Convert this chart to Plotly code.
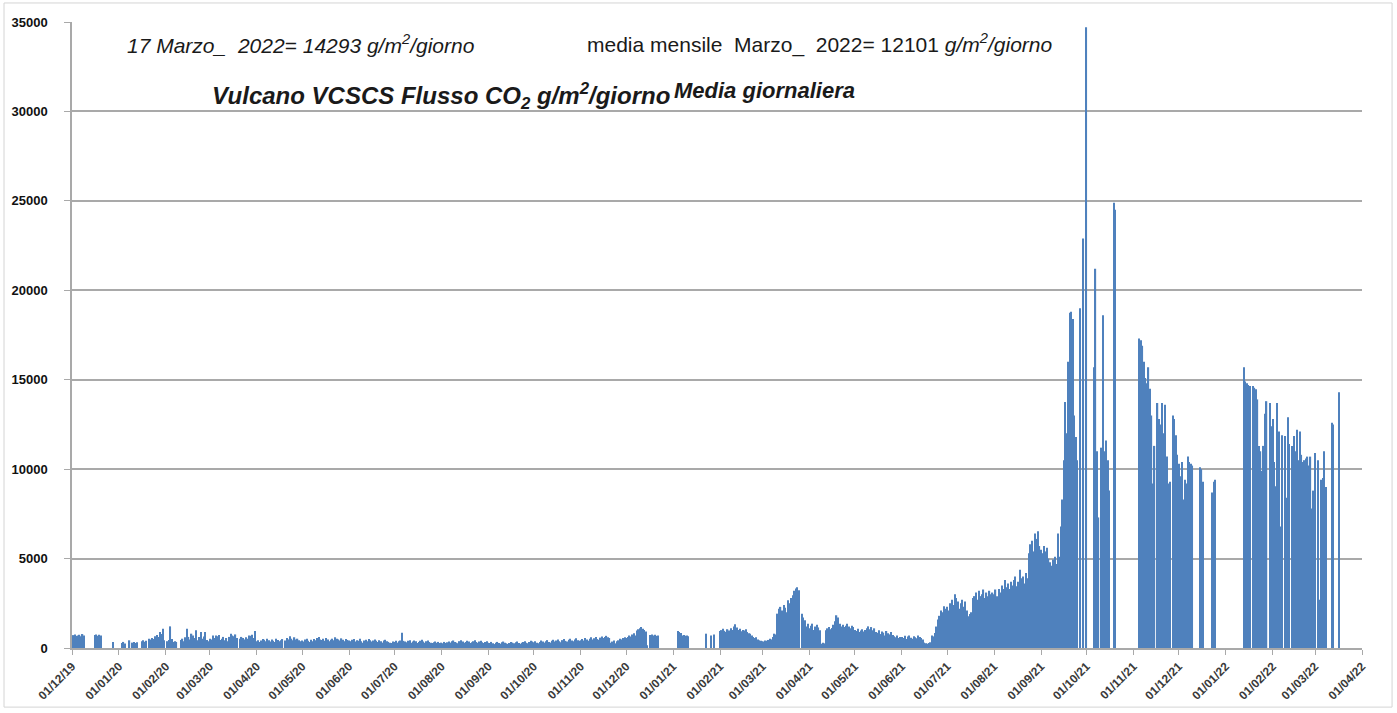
import calendar
import pandas as pd
import plotly.graph_objects as go

# Vulcano, station VCSCS: daily mean soil CO2 flux (g/m2/giorno).
# One inner list per month, one value per day; None = no measurement that day.
flux_2019 = [  # starts December 2019
    [None, 720, 760, 680, 700, 740, 650, 780, 700, None, None, None, None, None, None,
     720, 760, 690, 740, 700, None, None, None, None, None, None, None, 340, None, None, None],
]
flux_2020 = [
    [None, None, 280, 340, 250, None, None, 430, None, 300, 340, 280, 320, None, None, 380,
     430, 350, 400, None, 520, 480, 560, 500, 650, 720, 620, 900, 780, 1080, 430],
    [None, 380, 450, 1210, 500, 340, 380, 340, None, None, 450, 520, 380, 600, 1080, 620,
     480, 800, 700, 560, 990, 430, 620, 900, 520, 640, 900, 450, 380],
    [520, 480, 700, 560, 700, 650, 720, 450, 520, 620, 430, 560, 380, 620, 800, 700,
     650, 760, 560, None, 520, 620, 560, 480, 600, 520, 700, 680, 740, 560, 950],
    [380, 430, 340, 420, 500, 460, 380, 520, 430, 360, 480, 400, 340, 520, 450, 380,
     440, 500, None, 420, 560, 480, 650, 520, 430, 600, 480, 520, 440, 380],
    [420, 360, 480, 520, 400, 340, 460, 380, 500, 430, 560, 620, 480, 450, 520, 400,
     560, 480, 380, 460, 520, 440, 600, 520, 480, 420, 540, 460, 380, 500, 450],
    [420, 380, 460, 500, 360, 440, 400, 520, 380, 300, 420, 460, 380, 500, 440, 360,
     420, 480, 400, 340, 440, 380, 300, 420, 460, 380, 340, 300, 280, 360],
    [340, 400, 300, 380, 420, 850, 400, 360, 320, 400, 440, 300, 360, 420, 380, 280,
     340, 400, 460, 360, 300, 380, 420, 340, 300, 280, 320, 360, 300, 340, 280],
    [300, 260, 340, 280, 320, 360, 300, 380, 420, 340, 300, 260, 380, 440, 360, 300,
     340, 400, 360, 280, 320, 380, 440, 340, 300, 360, 400, 320, 280, 340, 380],
    [300, 280, 340, 260, 220, 300, 340, 280, 240, 320, 360, 300, 260, 220, 280, 340,
     300, 260, 320, 360, 280, 240, 300, 340, 380, 300, 260, 340, 400, 360],
    [320, 380, 300, 260, 340, 420, 360, 300, 380, 440, 340, 300, 400, 460, 360, 420,
     480, 380, 320, 440, 500, 400, 360, 460, 520, 420, 380, 480, 540, 440, 400],
    [440, 500, 420, 560, 480, 400, 520, 600, 480, 540, 620, 500, 460, 580, 640, 560,
     620, 680, 600, 560, 300, 360, 420, 260, 380, 430, 520, 480, 560, 600],
    [560, 620, 700, 640, 760, 820, 700, 980, 1050, 1100, 1180, 1080, 1000, 920, 150, None,
     720, 760, 700, 740, 680, 700, None, None, None, None, None, None, None, None, None],
]
flux_2021 = [
    [None, None, None, 950, 900, 840, 700, 720, 680, 700, 660, None, None, None, None, None,
     None, None, None, None, None, None, 800, None, None, 700, None, 750, None, None, None],
    [950, 1000, 1080, 960, 900, 1050, 980, 1100, 1000, 1200, 1330, 1150, 1000, 1080, 940, 1000,
     980, 1050, 900, 820, 800, 700, 620, 560, 600, 480, 430, 400],
    [380, 360, 420, 400, 450, 520, 480, 620, 800, 760, 1920, 2200, 2300, 2100, 2400, 2250,
     2000, 2670, 2500, 2800, 2950, 3200, 3320, 3400, 3230, None, 1920, 1700, 1550, 1200, 1360],
    [1100, 1250, 1360, 1000, 1200, 1300, 1150, 990, 240, 300, 260, 990, 1100, 1170, 1050, 1120,
     1300, 1500, 1830, 1700, 1360, 1200, 1300, 1170, 1250, 1360, 1200, 1100, 1250, 1170],
    [1000, 950, 1080, 900, 980, 1050, 920, 1000, 1100, 1210, 1050, 1170, 990, 1100, 900, 850,
     990, 780, 920, 860, 700, 950, 820, 760, 900, 720, 650, 600, 700, 560, 620],
    [620, 560, 680, 500, 640, 700, 580, 520, 660, 600, 540, 700, 620, 560, 480, 300,
     260, 240, 280, 320, 700, 650, 840, 1200, 1590, 1800, 2100, 2000, 2330, 2200],
    [2300, 2100, 2500, 2700, 2400, 3000, 2800, 2600, 2200, 2500, 2700, 2300, 2600, 2100, 1770, 1900,
     2000, 2800, 2900, 3100, 2700, 3200, 2900, 3000, 3270, 2800, 3100, 2900, 3200, 3000, 3100],
    [3000, 3270, 2900, 3300, 3100, 3500, 3300, 3800, 3400, 3600, 3300, 3700, 3500, 3800, 4000, 3450,
     3700, 4380, 3900, 4000, 3600, 4200, 3900, 5300, 5800, 6000, 5400, 6400, 6100, 6530, 5700],
    [5500, 5300, 5700, 5400, 5600, 5000, 4800, 4600, 4950, 5100, 4700, 6400, 5100, 6800, 8300, 10500,
     13750, 12000, 16000, 18750, 18800, 18400, 13000, 11800, 10500, None, 19000, None, 22900, None],
    [34700, None, None, None, None, 15700, 21200, 11000, 7300, None, 11200, 18600, 11000, 11600, 10500, 8800,
     None, None, 24900, 24500, None, None, None, None, None, None, None, None, None, None, None],
    [None, None, None, None, 17300, 17200, 16900, 16000, 15100, 14800, 15700, 14500, 13000, 9200, 11300, None,
     13700, 12800, 12500, 13700, 12000, 13600, 10700, 9200, 9300, None, 13000, 12800, 11900, 10800],
    [10300, 9600, 10400, 8300, 9400, 9200, 10700, 10400, 10300, 10200, None, None, None, None, 10100, 10000,
     9300, None, None, None, None, None, 8700, 9300, 9400, None, None, None, None, None, None],
]
flux_2022 = [
    [None, None, None, None, None, None, None, None, None, None, None, None, 15700, 14900, 14800, 14700,
     14650, None, 14650, 14550, 14460, 13900, 11300, 11000, 9900, 11300, 13100, 13800, None, 13700, 12400],
    [12800, 10400, 9050, 13700, 12100, 6800, 11900, None, 11850, 8400, 12900, 11400, None, 11300, 11850, 11000,
     12200, 10500, 12100, 10800, 10400, 10500, 10600, 10700, 10200, 10700, 7800, 8800],
    [10900, None, 10500, 2700, 9400, 9500, 11000, 9000, None, None, None, 12600, 12500, None, None, None,
     14293],
]

# Monthly mean for March 2022 as stated in the chart header
march_2022_mean = 12101

series = [(2019, 12, flux_2019), (2020, 1, flux_2020), (2021, 1, flux_2021), (2022, 1, flux_2022)]

dates, values = [], []
for year, first_month, months in series:
    for k, vals in enumerate(months):
        month = first_month + k
        assert len(vals) <= calendar.monthrange(year, month)[1], (year, month, len(vals))
        dates.extend(pd.date_range(f"{year}-{month:02d}-01", periods=len(vals), freq="D"))
        values.extend(vals)

last_day_value = flux_2022[-1][-1]

BAR = "#4F81BD"
GRID = "#a9a9a9"
FONT = "Liberation Sans"

fig = go.Figure(
    go.Bar(x=dates, y=values, marker=dict(color=BAR, line=dict(width=0)), hoverinfo="x+y")
)

fig.update_layout(
    width=1397,
    height=713,
    margin=dict(l=72, r=35, t=22, b=65),
    paper_bgcolor="white",
    plot_bgcolor="white",
    bargap=0.18,
    showlegend=False,
    font=dict(family=FONT, color="#1a1a1a"),
)

fig.update_xaxes(
    type="date",
    range=["2019-12-01", "2022-04-01"],
    tick0="2019-12-01",
    dtick="M1",
    tickformat="%d/%m/%y",
    tickangle=-45,
    ticks="outside",
    ticklen=5,
    tickcolor=GRID,
    tickfont=dict(family=FONT, size=12, color="#3a3a3a", weight="bold"),
    showgrid=False,
    showline=True,
    linecolor=GRID,
    linewidth=1.5,
    zeroline=False,
    automargin=False,
)

fig.update_yaxes(
    range=[0, 35000],
    tick0=0,
    dtick=5000,
    tickformat="d",
    ticks="outside",
    ticklen=6,
    tickcolor=GRID,
    tickfont=dict(family=FONT, size=13, color="#111111", weight="bold"),
    ticklabelstandoff=14,
    showgrid=True,
    gridcolor=GRID,
    gridwidth=1.5,
    showline=True,
    linecolor=GRID,
    linewidth=1.5,
    zeroline=False,
    automargin=False,
)

# Header texts inside the plotting area
fig.add_annotation(
    xref="paper", yref="paper", x=0.041, y=0.965, xanchor="left", yanchor="middle",
    text=f"<i>17 Marzo_  2022= {last_day_value} g/m<sup>2</sup>/giorno</i>",
    showarrow=False, font=dict(family=FONT, size=21, color="#1a1a1a"),
)
fig.add_annotation(
    xref="paper", yref="paper", x=0.398, y=0.965, xanchor="left", yanchor="middle",
    text=f"media mensile  Marzo_  2022= {march_2022_mean} <i>g/m<sup>2</sup>/giorno</i>",
    showarrow=False, font=dict(family=FONT, size=21, color="#1a1a1a"),
)
fig.add_annotation(
    xref="paper", yref="paper", x=0.107, y=0.882, xanchor="left", yanchor="middle",
    text="<b><i>Vulcano VCSCS Flusso CO<sub>2</sub> g/m<sup>2</sup>/giorno</i></b>",
    showarrow=False, font=dict(family=FONT, size=24, color="#1a1a1a"),
)
fig.add_annotation(
    xref="paper", yref="paper", x=0.4655, y=0.89, xanchor="left", yanchor="middle",
    text="<b><i>Media giornaliera</i></b>",
    showarrow=False, font=dict(family=FONT, size=22, color="#1a1a1a"),
)

# Thin frame around the whole chart
fig.add_shape(
    type="rect", xref="paper", yref="paper",
    x0=-0.0527, x1=1.0233, y0=-0.0944, y1=1.0304,
    line=dict(color="#d4d4d4", width=1), fillcolor="rgba(0,0,0,0)", layer="below",
)

fig.write_html("out.html", post_script="document.body.style.margin='0';")
